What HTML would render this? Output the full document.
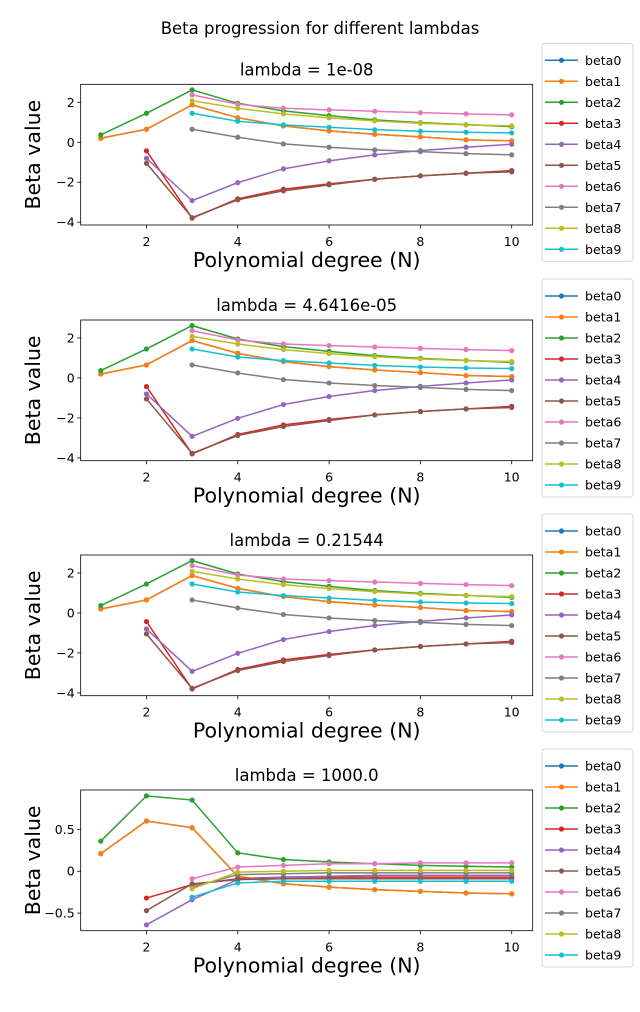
<!DOCTYPE html>
<html><head><meta charset="utf-8"><style>
body{margin:0;background:#fff;font-family:"DejaVu Sans","Liberation Sans",sans-serif;}
svg text{font-family:"DejaVu Sans","Liberation Sans",sans-serif;}
</style></head><body>
<svg id="fig" width="640" height="1008" viewBox="0 0 640 1008" xmlns="http://www.w3.org/2000/svg">
<text x="320" y="34" font-size="16.5" text-anchor="middle">Beta progression for different lambdas</text>
</svg>
<script>
const degrees=[1,2,3,4,5,6,7,8,9,10];
const seriesNames=["beta0","beta1","beta2","beta3","beta4","beta5","beta6","beta7","beta8","beta9"];
const colors=["#1f77b4","#ff7f0e","#2ca02c","#d62728","#9467bd","#8c564b","#e377c2","#7f7f7f","#bcbd22","#17becf"];
const lambdaTitles=["lambda = 1e-08","lambda = 4.6416e-05","lambda = 0.21544","lambda = 1000.0"];
const N=null;
const smallB0=[0.2,0.65,1.87,1.23,0.82,0.57,0.4,0.27,0.12,0.07];
const smallB1=[0.2,0.65,1.87,1.23,0.82,0.57,0.4,0.27,0.12,0.07];
const smallB2=[0.37,1.45,2.62,1.95,1.57,1.33,1.12,0.98,0.88,0.78];
const smallB3=[N,-0.43,-3.8,-2.83,-2.35,-2.08,-1.85,-1.68,-1.55,-1.42];
const smallB4=[N,-0.8,-2.92,-2.02,-1.33,-0.93,-0.63,-0.42,-0.25,-0.1];
const smallB5=[N,-1.05,-3.77,-2.88,-2.43,-2.13,-1.85,-1.68,-1.55,-1.48];
const smallB6=[N,N,2.37,1.9,1.7,1.62,1.55,1.48,1.42,1.37];
const smallB7=[N,N,0.65,0.25,-0.08,-0.25,-0.38,-0.47,-0.57,-0.63];
const smallB8=[N,N,2.08,1.7,1.42,1.22,1.07,0.95,0.87,0.82];
const smallB9=[N,N,1.45,1.05,0.87,0.75,0.63,0.55,0.5,0.47];
const bigB0=[0.21,0.6,0.52,-0.06,-0.15,-0.19,-0.22,-0.24,-0.26,-0.27];
const bigB1=[0.21,0.6,0.52,-0.06,-0.15,-0.19,-0.22,-0.24,-0.26,-0.27];
const bigB2=[0.36,0.9,0.85,0.22,0.14,0.11,0.09,0.07,0.06,0.05];
const bigB3=[N,-0.32,-0.16,-0.09,-0.07,-0.07,-0.07,-0.07,-0.07,-0.07];
const bigB4=[N,-0.64,-0.34,-0.1,-0.07,-0.06,-0.05,-0.05,-0.05,-0.05];
const bigB5=[N,-0.47,-0.15,-0.1,-0.09,-0.09,-0.09,-0.09,-0.09,-0.09];
const bigB6=[N,N,-0.09,0.05,0.07,0.09,0.09,0.1,0.1,0.1];
const bigB7=[N,N,-0.19,-0.04,-0.03,-0.02,-0.02,-0.02,-0.02,-0.02];
const bigB8=[N,N,-0.21,-0.01,0.0,0.01,0.01,0.01,0.01,0.01];
const bigB9=[N,N,-0.31,-0.14,-0.12,-0.12,-0.12,-0.12,-0.12,-0.12];
const smallSet=[smallB0,smallB1,smallB2,smallB3,smallB4,smallB5,smallB6,smallB7,smallB8,smallB9];
const bigSet=[bigB0,bigB1,bigB2,bigB3,bigB4,bigB5,bigB6,bigB7,bigB8,bigB9];
const panelData=[smallSet,smallSet,smallSet,bigSet];
const yTicksSmall=[2,0,-2,-4];
const yTicksBig=[0.5,0,-0.5];
const xTicks=[2,4,6,8,10];

const svg=document.getElementById('fig');
const NS="http://www.w3.org/2000/svg";
function mk(tag,attrs,parent){const e=document.createElementNS(NS,tag);for(const k in attrs)e.setAttribute(k,attrs[k]);(parent||svg).appendChild(e);return e;}
const L=80.7,R=532.7,H=140.7;
const tops=[84.3,320,555,790];
for(let p=0;p<4;p++){
  const T=tops[p],B=T+H;
  const big=p===3;
  const ymin=big?-0.71:-4.14, ymax=big?0.97:2.9;
  const xs=v=>L+(v-0.56)/(10.46-0.56)*(R-L);
  const ys=v=>B-(v-ymin)/(ymax-ymin)*(B-T);
  const g=mk('g',{});
  
  
  const t=mk('text',{x:(L+R)/2,y:T-9,'font-size':16.5,'text-anchor':'middle'},g);
  t.textContent=lambdaTitles[p];
  
  
  xTicks.forEach(v=>{
    mk('line',{x1:xs(v),x2:xs(v),y1:B,y2:B+3.5,stroke:'#000','stroke-width':0.8},g);
    const tx=mk('text',{x:xs(v),y:B+21,'font-size':12.5,'text-anchor':'middle'},g);
    tx.textContent=v;
    
    
  });
  (big?yTicksBig:yTicksSmall).forEach(v=>{
    mk('line',{x1:L-3.5,x2:L,y1:ys(v),y2:ys(v),stroke:'#000','stroke-width':0.8},g);
    const ty=mk('text',{x:L-6,y:ys(v)+4.5,'font-size':12.5,'text-anchor':'end'},g);
    ty.textContent=(v<0?'\u2212'+Math.abs(v):v);
    
    
  });
  const xl=mk('text',{x:(L+R)/2,y:B+42,'font-size':20.5,'text-anchor':'middle'},g);
  xl.textContent='Polynomial degree (N)';
  
  
  const yl=mk('text',{x:0,y:0,'font-size':20.5,'text-anchor':'middle',transform:`translate(40,${(T+B)/2}) rotate(-90)`},g);
  yl.textContent='Beta value';
  
  
  panelData[p].forEach((vals,si)=>{
    const pts=[];
    vals.forEach((v,i)=>{if(v!==null)pts.push([xs(degrees[i]),ys(v)]);});
    const pl=mk('polyline',{points:pts.map(q=>q.join(',')).join(' '),fill:'none',stroke:colors[si],'stroke-width':1.5},g);
    
    
    pts.forEach(q=>{
      const c=mk('circle',{cx:q[0],cy:q[1],r:2.6,fill:colors[si]},g);
      
      
    });
  });
  const fr=mk('rect',{x:L,y:T,width:R-L,height:H,fill:'none',stroke:'#000','stroke-width':0.8},g);
  
  
  const lg=mk('g',{},g);
  
  
  const ly=T-41;
  mk('rect',{x:542,y:ly,width:91,height:218,rx:3,fill:'#fff',stroke:'#ccc','stroke-width':0.8},lg);
  seriesNames.forEach((n,si)=>{
    const yy=ly+17+si*21;
    const e=mk('g',{},lg);
    
    
    mk('line',{x1:545,x2:578,y1:yy,y2:yy,stroke:colors[si],'stroke-width':1.5},e);
    mk('circle',{cx:561.5,cy:yy,r:2.6,fill:colors[si]},e);
    const lt=mk('text',{x:585,y:yy+4.5,'font-size':12.6},e);
    lt.textContent=n;
  });
}
</script>
</body></html>
